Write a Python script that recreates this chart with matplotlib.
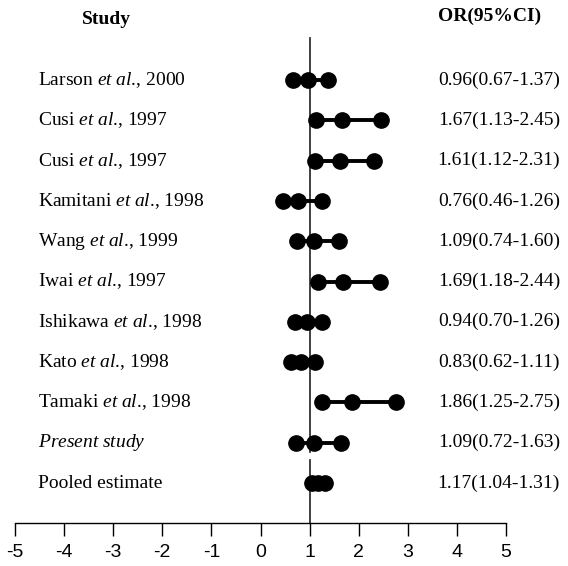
import matplotlib
matplotlib.use("Agg")
import matplotlib.pyplot as plt
import matplotlib.transforms as mtrans

studies = [r"Larson $\it{et\ al}$., 2000", r"Cusi $\it{et\ al}$., 1997", r"Cusi $\it{et\ al}$., 1997",
           r"Kamitani $\it{et\ al}$., 1998", r"Wang $\it{et\ al}$., 1999", r"Iwai $\it{et\ al}$., 1997",
           r"Ishikawa $\it{et\ al}$., 1998", r"Kato $\it{et\ al}$., 1998", r"Tamaki $\it{et\ al}$., 1998",
           r"$\it{Present\ study}$", "Pooled estimate"]
odds = [0.96, 1.67, 1.61, 0.76, 1.09, 1.69, 0.94, 0.83, 1.86, 1.09, 1.17]
lower = [0.67, 1.13, 1.12, 0.46, 0.74, 1.18, 0.70, 0.62, 1.25, 0.72, 1.04]
upper = [1.37, 2.45, 2.31, 1.26, 1.60, 2.44, 1.26, 1.11, 2.75, 1.63, 1.31]
xticks = [-5, -4, -3, -2, -1, 0, 1, 2, 3, 4, 5]

plt.rcParams['mathtext.fontset'] = 'custom'
plt.rcParams['mathtext.rm'] = 'Liberation Serif'
plt.rcParams['mathtext.it'] = 'Liberation Serif:italic'

W, H = 568, 566
fig = plt.figure(figsize=(W/100, H/100), dpi=100)
ax_bottom, ax_top = 523, 10
ax = fig.add_axes([15/W, (H-ax_bottom)/H, 491/W, (ax_bottom-ax_top)/H])
ax.set_xlim(-5, 5)
row0, step = 80, 40.3
def prow(p):
    return (p - row0) / step
ax.set_ylim(prow(ax_bottom), prow(ax_top))

for i in range(len(studies)):
    ax.plot([lower[i], odds[i], upper[i]], [i, i, i], color='black', lw=2.8,
            marker='o', ms=11, solid_capstyle='butt', zorder=3)

ax.plot([1, 1], [prow(38), prow(452)], color='#333333', lw=1.3, zorder=2)
ax.plot([1, 1], [prow(460), prow(ax_bottom)], color='#333333', lw=1.3, zorder=2)

tr = mtrans.blended_transform_factory(fig.transFigure, ax.transData)
for i, s in enumerate(studies):
    ax.text(38/W, i, s, transform=tr, ha='left', va='center', fontsize=14,
            family='Liberation Serif', clip_on=False)
    ax.text(560/W, i, f"{odds[i]:.2f}({lower[i]:.2f}-{upper[i]:.2f})", transform=tr,
            ha='right', va='center', fontsize=14, family='Liberation Serif', clip_on=False)

ax.text(106/W, prow(19), "Study", transform=tr, ha='center', va='center', fontsize=14,
        fontweight='bold', family='Liberation Serif')
ax.text(490/W, prow(16), "OR(95%CI)", transform=tr, ha='center', va='center', fontsize=14,
        fontweight='bold', family='Liberation Serif')

for sp in ['top', 'right', 'left']:
    ax.spines[sp].set_visible(False)
ax.spines['bottom'].set_linewidth(1.0)
ax.set_yticks([])
ax.set_xticks(xticks)
ax.set_xticklabels([str(t) for t in xticks], fontsize=14, family='Liberation Sans')
ax.tick_params(axis='x', direction='out', length=9, width=1, pad=6)
fig.savefig("out.png", dpi=100)
